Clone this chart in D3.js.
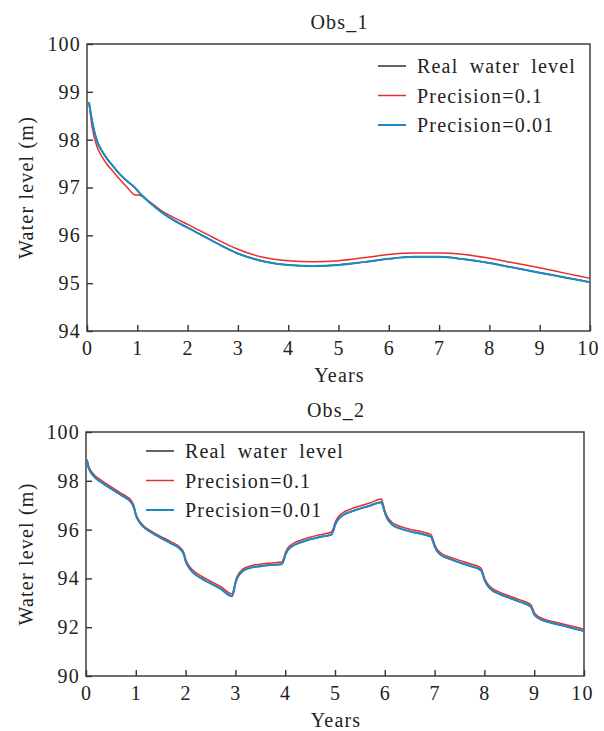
<!DOCTYPE html>
<html>
<head>
<meta charset="utf-8">
<script src="https://cdn.jsdelivr.net/npm/d3@7"></script>
<style>
  body { margin: 0; background: #fff; }
</style>
</head>
<body>
<div id="chart"></div>
<script>
// --- data ---
const seriesNames = ["Real water level", "Precision=0.1", "Precision=0.01"];
const seriesColors = ["#333333", "#e8302a", "#1b8ac6"];

// Obs_1
const obs1Years = [0.04, 0.1, 0.2, 0.3, 0.4, 0.5, 0.65, 0.8, 0.95, 1.05, 1.25, 1.5, 1.75, 2, 2.5, 3, 3.5, 4, 4.5, 5, 5.5, 6, 6.5, 7, 7.5, 8, 8.5, 9, 9.5, 10];
const obs1Real = [98.78, 98.4, 97.97, 97.76, 97.6, 97.47, 97.28, 97.13, 97.0, 96.88, 96.68, 96.47, 96.3, 96.16, 95.88, 95.62, 95.46, 95.38, 95.36, 95.38, 95.44, 95.51, 95.55, 95.55, 95.5, 95.42, 95.32, 95.22, 95.12, 95.02];
const obs1P01 = [98.78, 98.28, 97.85, 97.64, 97.48, 97.36, 97.17, 97.0, 96.85, 96.84, 96.7, 96.5, 96.36, 96.23, 95.96, 95.71, 95.54, 95.47, 95.45, 95.47, 95.53, 95.6, 95.63, 95.63, 95.6, 95.52, 95.42, 95.32, 95.21, 95.1];
const obs1P001 = [98.78, 98.4, 97.97, 97.76, 97.6, 97.47, 97.28, 97.13, 97.0, 96.88, 96.68, 96.47, 96.3, 96.16, 95.88, 95.62, 95.46, 95.38, 95.36, 95.38, 95.44, 95.51, 95.55, 95.55, 95.5, 95.42, 95.32, 95.22, 95.12, 95.02];

// Obs_2
const obs2Years = [0.02, 0.05, 0.15, 0.3, 0.5, 0.7, 0.93,
  0.97, 1.0, 1.05, 1.15, 1.3, 1.5, 1.7, 1.93,
  1.97, 2.0, 2.05, 2.15, 2.3, 2.5, 2.7, 2.93,
  2.97, 3.0, 3.05, 3.15, 3.3, 3.5, 3.7, 3.93,
  3.97, 4.0, 4.05, 4.15, 4.3, 4.5, 4.7, 4.93,
  4.97, 5.0, 5.05, 5.15, 5.3, 5.5, 5.7, 5.93,
  5.97, 6.0, 6.05, 6.15, 6.3, 6.5, 6.7, 6.93,
  6.97, 7.0, 7.05, 7.15, 7.3, 7.5, 7.7, 7.93,
  7.97, 8.0, 8.05, 8.15, 8.3, 8.5, 8.7, 8.93,
  8.97, 9.0, 9.05, 9.15, 9.3, 9.5, 9.7, 10];
const obs2Real = [98.85, 98.55, 98.2, 97.95, 97.68, 97.42, 97.05,
  96.85, 96.6, 96.38, 96.12, 95.9, 95.66, 95.44, 95.12,
  94.95, 94.72, 94.5, 94.24, 94.02, 93.8, 93.58, 93.27,
  93.5, 93.8, 94.06, 94.3, 94.43, 94.5, 94.55, 94.58,
  94.75, 94.95, 95.15, 95.33, 95.47, 95.6, 95.7, 95.8,
  95.98, 96.18, 96.38, 96.58, 96.72, 96.86, 96.98, 97.12,
  96.92, 96.7, 96.45, 96.2, 96.05, 95.93, 95.84, 95.7,
  95.5, 95.32, 95.12, 94.93, 94.8, 94.65, 94.52, 94.34,
  94.15, 93.95, 93.75, 93.52, 93.36, 93.2, 93.05, 92.84,
  92.68, 92.52, 92.42, 92.3, 92.2, 92.1, 92.0, 91.84];
const obs2P01 = [98.88, 98.62, 98.28, 98.03, 97.76, 97.5, 97.13,
  96.93, 96.66, 96.43, 96.17, 95.95, 95.72, 95.51, 95.19,
  95.02, 94.8, 94.58, 94.33, 94.11, 93.89, 93.67, 93.37,
  93.58, 93.88, 94.14, 94.38, 94.51, 94.58, 94.63, 94.67,
  94.83, 95.03, 95.24, 95.42, 95.56, 95.69, 95.79, 95.9,
  96.08, 96.28, 96.48, 96.68, 96.83, 96.97, 97.09, 97.25,
  97.02, 96.79, 96.54, 96.29, 96.14, 96.02, 95.93, 95.79,
  95.58, 95.4, 95.2, 95.01, 94.88, 94.74, 94.61, 94.43,
  94.23, 94.03, 93.83, 93.6, 93.44, 93.28, 93.13, 92.93,
  92.76, 92.6, 92.49, 92.37, 92.27, 92.17, 92.07, 91.92];
const obs2P001 = obs2Real.slice();

const obs1Ticks = [94, 95, 96, 97, 98, 99, 100];
const obs2Ticks = [90, 92, 94, 96, 98, 100];
const yearTicks = [0, 1, 2, 3, 4, 5, 6, 7, 8, 9, 10];

const svg = d3.select("#chart").append("svg")
  .attr("width", 604)
  .attr("height", 731);

function styleText(sel) {
  return sel.style("font-family", '"Liberation Serif"')
    .style("font-size", "20px")
    .style("letter-spacing", "1.2px")
    .attr("fill", "#222");
}

function drawPanel(opt) {
  const x = d3.scaleLinear().domain([0, 10]).range([opt.left, opt.right]);
  const y = d3.scaleLinear().domain(opt.yDomain).range([opt.bottom, opt.top]);
  const g = svg.append("g");

  // frame
  g.append("rect")
    .attr("x", opt.left).attr("y", opt.top)
    .attr("width", opt.right - opt.left).attr("height", opt.bottom - opt.top)
    .attr("fill", "none").attr("stroke", "#333").attr("stroke-width", 1.4);

  const xAxis = g.append("g")
    .attr("transform", `translate(0,${opt.bottom})`)
    .call(d3.axisBottom(x).tickValues(yearTicks).tickSizeInner(-6).tickSizeOuter(0).tickPadding(10).tickFormat(d3.format("d")));
  const yAxis = g.append("g")
    .attr("transform", `translate(${opt.left},0)`)
    .call(d3.axisLeft(y).tickValues(opt.yTicks).tickSizeInner(-6).tickSizeOuter(0).tickPadding(6).tickFormat(d3.format("d")));
  [xAxis, yAxis].forEach(a => {
    a.attr("font-family", null).attr("font-size", null);
    a.select(".domain").remove();
    a.selectAll("line").attr("stroke", "#333").attr("stroke-width", 1.4);
    styleText(a.selectAll("text"));
  });
  // the last x label sits right against the frame edge
  xAxis.selectAll("text").filter(d => d === 10).attr("dx", "-2");

  // lines
  const series = [opt.real, opt.p01, opt.p001];
  const widths = [1.5, 1.5, 2];
  series.forEach((vals, i) => {
    const pts = opt.years.map((t, j) => [t, vals[j]]);
    g.append("path")
      .datum(pts)
      .attr("fill", "none")
      .attr("stroke", seriesColors[i])
      .attr("stroke-width", widths[i])
      .attr("stroke-linejoin", "round")
      .attr("d", d3.line().x(d => x(d[0])).y(d => y(d[1])).curve(d3.curveMonotoneX));
  });

  // legend
  const leg = g.append("g").attr("transform", `translate(${opt.legX},${opt.legY})`);
  seriesNames.forEach((name, i) => {
    const row = leg.append("g").attr("transform", `translate(0,${i * 29.5})`);
    row.append("line").attr("x1", 0).attr("x2", 28).attr("y1", 0).attr("y2", 0)
      .attr("stroke", seriesColors[i]).attr("stroke-width", widths[i]);
    styleText(row.append("text").attr("x", 39).attr("y", 7).text(name))
      .style("word-spacing", "5px");
  });

  // titles
  styleText(g.append("text")
    .attr("x", (opt.left + opt.right) / 2 + 1)
    .attr("y", opt.top - 15)
    .attr("text-anchor", "middle")
    .text(opt.title));
  styleText(g.append("text")
    .attr("x", (opt.left + opt.right) / 2 + 1)
    .attr("y", opt.bottom + 51)
    .attr("text-anchor", "middle")
    .text("Years"));
  styleText(g.append("text")
    .attr("transform", `translate(33,${(opt.top + opt.bottom) / 2}) rotate(-90)`)
    .attr("text-anchor", "middle")
    .text("Water level (m)"));
}

drawPanel({
  title: "Obs_1", left: 87, right: 590, top: 44, bottom: 331,
  yDomain: [94, 100], yTicks: obs1Ticks,
  years: obs1Years, real: obs1Real, p01: obs1P01, p001: obs1P001,
  legX: 378, legY: 66
});
drawPanel({
  title: "Obs_2", left: 86, right: 584, top: 432, bottom: 676,
  yDomain: [90, 100], yTicks: obs2Ticks,
  years: obs2Years, real: obs2Real, p01: obs2P01, p001: obs2P001,
  legX: 146, legY: 451
});
</script>
</body>
</html>
